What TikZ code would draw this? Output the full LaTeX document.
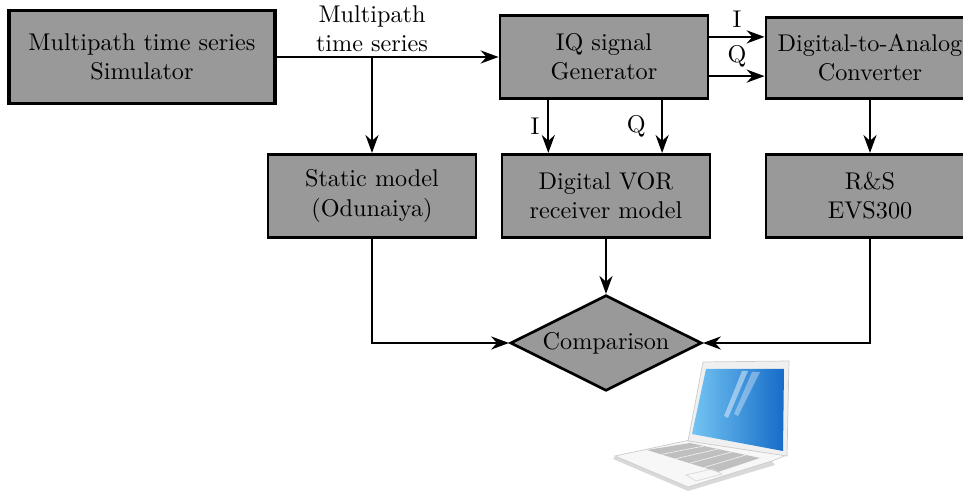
\documentclass[tikz,border=0pt]{standalone}
\usepackage{tikz}
\usetikzlibrary{arrows.meta,positioning,shapes.geometric,calc}

\definecolor{boxgray}{gray}{0.6}
\definecolor{screenlight}{RGB}{115,196,242}
\definecolor{screendark}{RGB}{22,108,200}

\begin{document}
\begin{tikzpicture}[
  x=0.413pt, y=-0.413pt,
  block/.style={draw, fill=boxgray, line width=1.1pt, minimum width=86pt, minimum height=34.5pt, align=center, inner sep=2pt},
  arrow/.style={-{Stealth[length=2.6mm, width=1.9mm]}, thick}
]
  \useasboundingbox (0,0) rectangle (963,492);
  \clip (0,0) rectangle (963,492);

  % blocks
  \node[block, minimum width=110pt, minimum height=38.5pt, line width=1.4pt] (sim) at (142,57) {Multipath time series\\Simulator};
  \node[block] (iq) at (604,57) {IQ signal\\Generator};
  \node[block, minimum height=33.5pt] (dac) at (870,58) {Digital-to-Analog\\Converter};
  \node[block] (static) at (372,196) {Static model\\(Odunaiya)};
  \node[block] (vor) at (606,196) {Digital VOR\\receiver model};
  \node[block] (rs) at (870,196) {R\&S\\EVS300};
  \node[diamond, aspect=2, draw, fill=boxgray, line width=1.1pt, minimum width=79pt, minimum height=39.5pt, inner sep=0pt] (cmp) at (606,343) {Comparison};

  % time series to generator and static model
  \coordinate (split) at (static.north |- sim.east);
  \draw[arrow] (sim.east) -- (iq.west);
  \draw[arrow] (split) -- (static.north);
  \node[align=center, inner sep=0pt, above=2pt of split] (tslabel) {Multipath\\time series};

  % I/Q outputs
  \coordinate (iqI) at ([xshift=-23pt]iq.south);
  \coordinate (iqQ) at ([xshift=24pt]iq.south);
  \draw[arrow] (iqI) -- (iqI |- vor.north) node[midway, left] {I};
  \draw[arrow] (iqQ) -- (iqQ |- vor.north) node[midway, left=3pt] {Q};
  \coordinate (dacI) at ([yshift=8.3pt]iq.east);
  \coordinate (dacQ) at ([yshift=-7.9pt]iq.east);
  \draw[arrow] (dacI) -- (dacI -| dac.west) node[midway, above] {I};
  \draw[arrow] (dacQ) -- (dacQ -| dac.west) node[midway, above] {Q};
  \draw[arrow] (dac) -- (rs);

  % into the comparison
  \draw[arrow] (static.south) |- (cmp.west);
  \draw[arrow] (vor) -- (cmp);
  \draw[arrow] (rs.south) |- (cmp.east);

  % laptop
  \fill[gray!30] (613,459) -- (688,491) -- (775,465) -- (772,461) -- (688,487) -- (615,456) -- cycle;
  \filldraw[fill=gray!6, draw=gray!40, line width=0.3pt] (615,456) -- (690,440) -- (787,455) -- (772,461) -- (688,487) -- cycle;
  \fill[gray!50] (647,450) -- (690,443) -- (760,458) -- (718,472) -- cycle;
  \foreach \t in {0.2,0.4,0.6,0.8}
    \draw[gray!15, line width=0.3pt] ($(647,450)!\t!(718,472)$) -- ($(690,443)!\t!(760,458)$);
  \draw[gray!30, line width=0.3pt] (686,475) -- (712,469) -- (722,474) -- (696,481) -- cycle;
  \filldraw[fill=gray!12, draw=gray!40, line width=0.3pt] (703,362) -- (789,361) -- (787,456) -- (688,441) -- cycle;
  \shade[left color=screenlight, right color=screendark] (706,369) -- (784,369) -- (783,451) -- (692,434) -- cycle;
  \fill[white, opacity=0.45] (742,371) -- (748,371) -- (728,418) -- (724,416) -- cycle;
  \fill[white, opacity=0.35] (752,372) -- (760,372) -- (738,416) -- (734,414) -- cycle;
\end{tikzpicture}
\end{document}
